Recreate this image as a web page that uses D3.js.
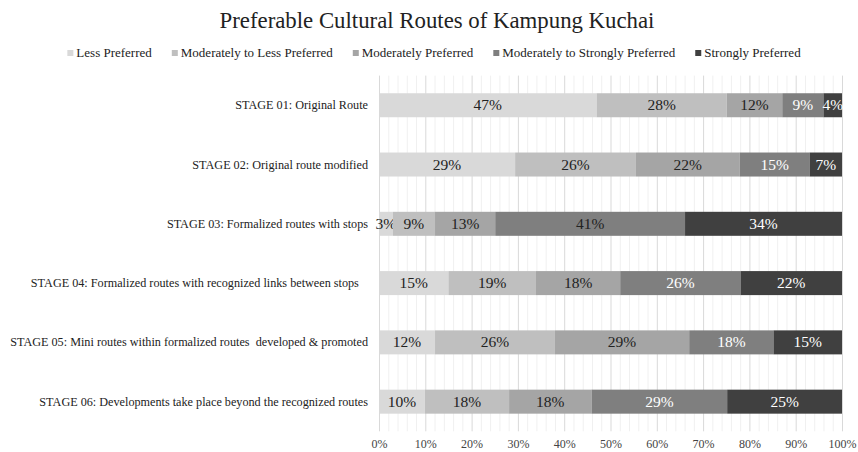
<!DOCTYPE html>
<html>
<head>
<meta charset="utf-8">
<script src="https://cdn.jsdelivr.net/npm/d3@7"></script>
<style>
  body { margin: 0; background: #fff; }
  svg text { font-family: 'Liberation Serif', 'DejaVu Serif', serif; }
</style>
</head>
<body>
<div id="chart"></div>
<script>
const categories = [
  'STAGE 01: Original Route',
  'STAGE 02: Original route modified',
  'STAGE 03: Formalized routes with stops',
  'STAGE 04: Formalized routes with recognized links between stops   ',
  'STAGE 05: Mini routes within formalized routes  developed & promoted',
  'STAGE 06: Developments take place beyond the recognized routes'
];
const seriesNames = [
  'Less Preferred',
  'Moderately to Less Preferred',
  'Moderately Preferred',
  'Moderately to Strongly Preferred',
  'Strongly Preferred'
];
// percent of respondents per stage
const lessPreferred = [47, 29.4, 3.0, 15.0, 12.1, 9.9];
const modToLess = [28.1, 26.1, 9.1, 18.9, 25.9, 18.2];
const moderately = [12.0, 22.4, 13.0, 18.2, 29.0, 17.8];
const modToStrongly = [8.9, 15.1, 41.0, 26.0, 18.2, 29.3];
const strongly = [4.0, 7.0, 33.9, 21.9, 14.8, 24.8];
const xTicks = [0, 10, 20, 30, 40, 50, 60, 70, 80, 90, 100];

const colors = ['#d9d9d9', '#bfbfbf', '#a5a5a5', '#7f7f7f', '#404040'];
const FONT = "'Liberation Serif', 'DejaVu Serif', serif";

const width = 858, height = 452;
const margin = { top: 75.6, right: 16, bottom: 20.7, left: 379 };

const rows = categories.map((c, i) => ({
  cat: c,
  [seriesNames[0]]: lessPreferred[i],
  [seriesNames[1]]: modToLess[i],
  [seriesNames[2]]: moderately[i],
  [seriesNames[3]]: modToStrongly[i],
  [seriesNames[4]]: strongly[i]
}));

const stacked = d3.stack().keys(seriesNames)(rows);

const svg = d3.select('#chart')
  .append('svg')
  .attr('width', width)
  .attr('height', height)
  .attr('font-family', FONT);

const x = d3.scaleLinear()
  .domain([0, 100])
  .range([margin.left, width - margin.right]);

const y = d3.scaleBand()
  .domain(categories)
  .range([margin.top, height - margin.bottom])
  .paddingInner(0.595)
  .paddingOuter(0.2975);

// title
svg.append('text')
  .attr('x', 437)
  .attr('y', 28)
  .attr('text-anchor', 'middle')
  .attr('font-family', FONT)
  .attr('font-size', 22.8)
  .attr('fill', '#222')
  .text('Preferable Cultural Routes of Kampung Kuchai');

// legend
const legend = svg.append('g').attr('class', 'legend');
const items = legend.selectAll('g')
  .data(seriesNames)
  .join('g');
items.append('rect')
  .attr('y', 50)
  .attr('width', 6)
  .attr('height', 6)
  .attr('fill', (d, i) => colors[i]);
items.append('text')
  .attr('x', 9)
  .attr('y', 57)
  .attr('font-family', FONT)
  .attr('font-size', 13)
  .attr('fill', '#222')
  .text(d => d);
let lx = 0;
items.each(function () {
  d3.select(this).attr('transform', `translate(${lx},0)`);
  lx += 9 + d3.select(this).select('text').node().getComputedTextLength() + 20;
});
const legendW = lx - 20;
legend.attr('transform', `translate(${434 - legendW / 2},0)`);

// gridlines
const plotTop = margin.top, plotBottom = height - margin.bottom;
svg.append('g')
  .selectAll('line')
  .data(d3.range(0, 101, 2).filter(v => v % 10 !== 0))
  .join('line')
  .attr('x1', d => x(d) + 0.5)
  .attr('x2', d => x(d) + 0.5)
  .attr('y1', plotTop)
  .attr('y2', plotBottom)
  .attr('stroke', '#f0f0f0');
svg.append('g')
  .selectAll('line')
  .data(xTicks)
  .join('line')
  .attr('x1', d => x(d) + 0.5)
  .attr('x2', d => x(d) + 0.5)
  .attr('y1', plotTop)
  .attr('y2', plotBottom)
  .attr('stroke', '#d9d9d9');

// bars
const layers = svg.append('g')
  .selectAll('g')
  .data(stacked)
  .join('g')
  .attr('fill', (d, i) => colors[i]);

layers.selectAll('rect')
  .data(d => d)
  .join('rect')
  .attr('x', d => x(d[0]))
  .attr('y', d => y(d.data.cat))
  .attr('width', d => x(d[1]) - x(d[0]))
  .attr('height', y.bandwidth());

// data labels
layers.each(function (layer, i) {
  d3.select(this).selectAll('text')
    .data(layer)
    .join('text')
    .attr('x', d => (x(d[0]) + x(d[1])) / 2)
    .attr('y', d => y(d.data.cat) + y.bandwidth() / 2 + 5)
    .attr('text-anchor', 'middle')
    .attr('font-family', FONT)
    .attr('font-size', 15.5)
    .attr('fill', d => (i >= 3 && !(i === 3 && d.data.cat.startsWith('STAGE 03'))) ? '#fff' : '#222')
    .text(d => Math.round(d[1] - d[0]) + '%');
});

// category labels
svg.append('g')
  .selectAll('text')
  .data(categories)
  .join('text')
  .attr('x', 368)
  .attr('y', d => y(d) + y.bandwidth() / 2 + 4)
  .attr('text-anchor', 'end')
  .attr('font-family', FONT)
  .attr('font-size', 12.2)
  .attr('fill', '#222')
  .style('white-space', 'pre')
  .text(d => d);

// x axis labels
const xAxis = d3.axisBottom(x)
  .tickValues(xTicks)
  .tickSize(0)
  .tickPadding(0)
  .tickFormat(d => d + '%');
const ax = svg.append('g')
  .attr('transform', `translate(0,${plotBottom + 8})`)
  .call(xAxis)
  .attr('font-family', FONT);
ax.select('.domain').remove();
ax.selectAll('text')
  .attr('font-family', FONT)
  .attr('font-size', 12)
  .attr('fill', '#444');
</script>
</body>
</html>
